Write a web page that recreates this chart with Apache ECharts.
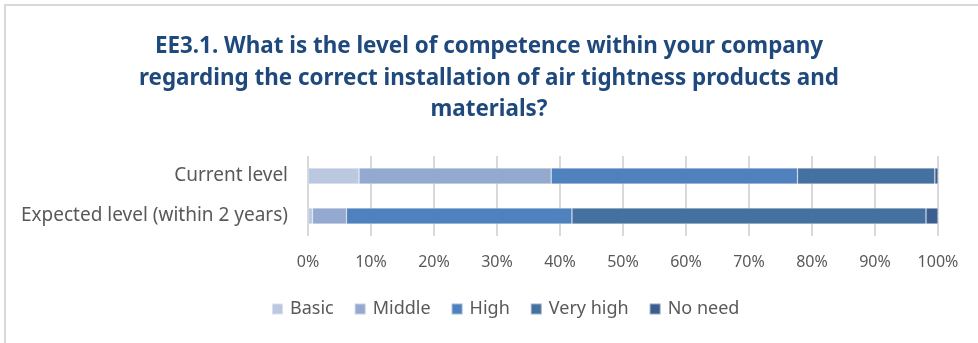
<!DOCTYPE html>
<html>
<head>
<meta charset="utf-8">
<script src="https://cdn.jsdelivr.net/npm/echarts@6/dist/echarts.min.js"></script>
<style>
  html, body { margin: 0; padding: 0; background: #fff; }
  #chart { width: 978px; height: 343px; }
</style>
</head>
<body>
<div id="chart"></div>
<script>
// Survey answers, share of respondents (%)
var categories = ['Current level', 'Expected level (within 2 years)'];
var levelNames = ['Basic', 'Middle', 'High', 'Very high', 'No need'];
var basic    = [8.1, 0.7];
var middle   = [30.5, 5.4];
var high     = [39.1, 35.8];
var veryHigh = [21.8, 56.2];
var noNeed   = [0.5, 1.9];
var levelColors = ['#BCC8E0', '#94A9CF', '#4E81BD', '#44719F', '#3B5E8F'];

var font = "'Noto Sans', sans-serif";
var valueSets = [basic, middle, high, veryHigh, noNeed];

var series = levelNames.map(function (name, i) {
  return {
    name: name,
    type: 'bar',
    stack: 'total',
    barWidth: 16,
    data: valueSets[i],
    itemStyle: {
      color: levelColors[i],
      borderColor: 'rgba(255,255,255,0.45)',
      borderWidth: 0.6
    }
  };
});

var chart = echarts.init(document.getElementById('chart'), null, { renderer: 'canvas' });
chart.setOption({
  backgroundColor: '#ffffff',
  animation: false,
  graphic: [{
    type: 'rect',
    shape: { x: 5, y: 5, width: 1000, height: 400 },
    style: { fill: 'none', stroke: '#D9D9D9', lineWidth: 2 },
    silent: true
  }],
  title: {
    text: 'EE3.1. What is the level of competence within your company\nregarding the correct installation of air tightness products and\nmaterials?',
    left: 'center',
    top: 26,
    textStyle: {
      fontFamily: font,
      fontSize: 22.4,
      fontWeight: 'bold',
      color: '#1F497D',
      lineHeight: 31.5
    }
  },
  legend: {
    data: levelNames,
    bottom: 25,
    left: 271,
    padding: 0,
    itemWidth: 11,
    itemHeight: 11,
    itemGap: 20,
    icon: 'rect',
    textStyle: { fontFamily: font, fontSize: 18, color: '#595959', padding: [0, 0, 0, 2] }
  },
  grid: { left: 308, right: 40, top: 156, bottom: 107, containLabel: false },
  xAxis: {
    type: 'value',
    min: 0,
    max: 100,
    interval: 10,
    axisLine: { show: false },
    axisTick: { show: false },
    axisLabel: {
      formatter: '{value}%',
      fontFamily: font,
      fontSize: 16,
      color: '#595959',
      margin: 18
    },
    splitLine: { lineStyle: { color: '#D9D9D9', width: 2 } }
  },
  yAxis: {
    type: 'category',
    data: categories,
    inverse: true,
    axisLine: { show: false },
    axisTick: { show: false },
    axisLabel: {
      fontFamily: font,
      fontSize: 19,
      color: '#595959',
      margin: 20
    }
  },
  series: series
});
</script>
</body>
</html>
